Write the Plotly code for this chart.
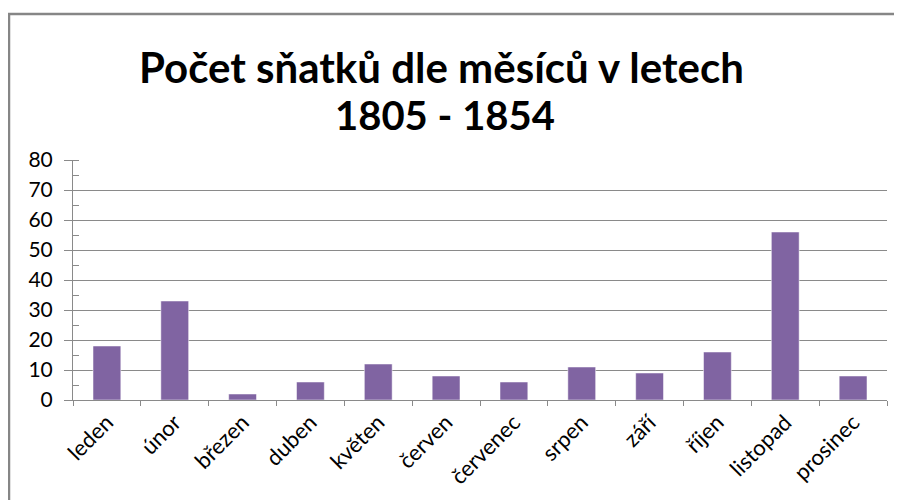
import plotly.graph_objects as go

months = ["leden", "únor", "březen", "duben", "květen", "červen",
          "červenec", "srpen", "září", "říjen", "listopad", "prosinec"]
marriages = [18, 33, 2, 6, 12, 8, 6, 11, 9, 16, 56, 8]
y_ticks = [0, 10, 20, 30, 40, 50, 60, 70, 80]
title_lines = ["Počet sňatků dle měsíců v letech", "1805 - 1854"]

fig = go.Figure(go.Bar(x=months, y=marriages,
                       marker=dict(color="#8064A2", line=dict(color="#ffffff", width=0.5))))

# page body has an 8px margin, so figure coords = screen coords - 8
L, R, T, B = 65, 23, 152, 108
W, H = 902, 500
pw = W - L - R
ph = H - T - B


def px_x(p):
    return (p - L) / pw


def px_y(p):
    return (H - B - p) / ph


fig.update_layout(
    width=W, height=H,
    margin=dict(l=L, r=R, t=T, b=B, autoexpand=False),
    paper_bgcolor="white", plot_bgcolor="white",
    bargap=0.59,
    showlegend=False,
    font=dict(family="Lato, Open Sans, sans-serif", color="#000000", size=17),
    shapes=[dict(type="rect", xref="paper", yref="paper",
                 x0=px_x(1), x1=1.2, y0=-1, y1=px_y(6),
                 line=dict(color="#868686", width=2.5), fillcolor="rgba(0,0,0,0)", layer="below")],
    annotations=[
        dict(text="<b>" + title_lines[0] + "</b>", xref="paper", yref="paper",
             x=px_x(433), y=px_y(59), xanchor="center", yanchor="middle", showarrow=False,
             font=dict(family="Lato, sans-serif", size=42, color="#000000")),
        dict(text="<b>" + title_lines[1] + "</b>", xref="paper", yref="paper",
             x=px_x(437), y=px_y(107), xanchor="center", yanchor="middle", showarrow=False,
             font=dict(family="Lato, sans-serif", size=40, color="#000000")),
    ],
)

fig.update_xaxes(
    type="category", tickson="boundaries", ticks="outside", ticklen=5, tickcolor="#8a8a8a",
    showline=True, linecolor="#8a8a8a", linewidth=1, tickangle=-45, automargin=False,
    showgrid=False, tickfont=dict(size=22),
)
fig.update_yaxes(
    range=[0, 80], tickvals=y_ticks, ticks="outside", ticklen=8, tickcolor="#8a8a8a",
    showline=True, linecolor="#8a8a8a", linewidth=1, automargin=False,
    showgrid=True, gridcolor="#8a8a8a", gridwidth=1, zeroline=False,
    minor=dict(dtick=5, ticks="inside", ticklen=6, tickcolor="#8a8a8a", showgrid=False),
    tickfont=dict(size=21), ticklabelstandoff=7,
)

fig.write_html("out.html")
